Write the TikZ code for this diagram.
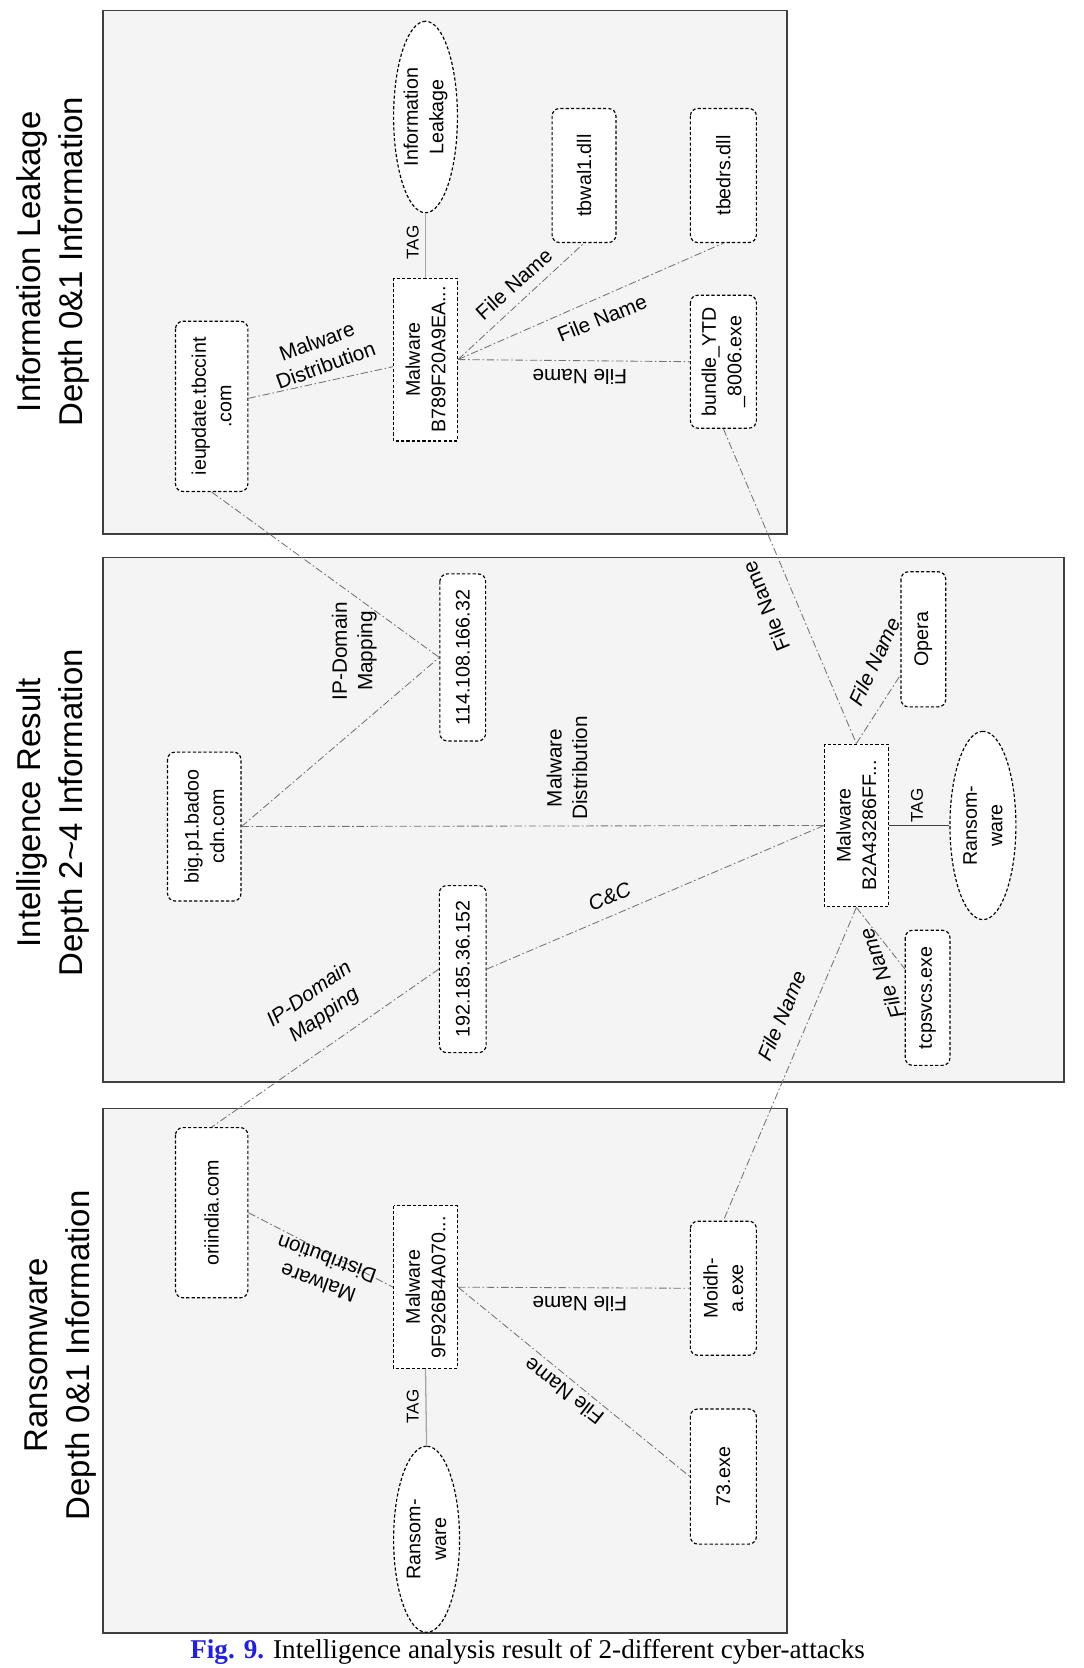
\documentclass[tikz,border=0pt]{standalone}
\usepackage{fontspec}
\setmainfont{Liberation Serif}
\newfontfamily\dsans{Liberation Sans}
\usetikzlibrary{shapes.geometric}
\definecolor{panelbg}{HTML}{F4F4F4}
\definecolor{figblue}{HTML}{1F1FE6}

\begin{document}
\begin{tikzpicture}[x=1pt,y=-1pt,line width=1pt,
  panel/.style={draw=black!75,fill=panelbg,line width=1.6pt},
  ttl/.style={rotate=90,align=center,font=\dsans\fontsize{31}{40}\selectfont},
  nd/.style={draw,dash pattern=on 3pt off 2pt,line width=1.1pt,fill=white,rotate=90,
    align=center,inner sep=2pt,font=\dsans\fontsize{18.5}{24}\selectfont},
  rbox/.style={nd,rounded corners=7pt},
  mbox/.style={nd,minimum width=153pt,minimum height=60pt},
  tagell/.style={nd,ellipse,inner sep=0pt},
  rel/.style={draw=black!55,line width=0.8pt,dash pattern=on 7pt off 2.5pt on 1.5pt off 2.5pt},
  tagln/.style={draw=black!35,line width=1.2pt},
  elab/.style={font=\dsans\fontsize{19.5}{24}\selectfont,align=center,inner sep=1pt},
  tlab/.style={elab,rotate=90,font=\dsans\fontsize{16}{20}\selectfont}]
\useasboundingbox (0,0) rectangle (1019,1568);
% 三个面板
\draw[panel] (97,10) rectangle (740,502);
\draw[panel] (97,524) rectangle (1000,1017);
\draw[panel] (97,1042) rectangle (740,1535);
% 标题（竖排）
\node[ttl] (t1) at (50,246) {Information Leakage\\Depth 0\&1 Information};
\node[ttl] (t2) at (50,764) {Intelligence Result\\Depth 2\textasciitilde4 Information};
\node[ttl] (t3) at (57,1274) {Ransomware\\Depth 0\&1 Information};
% 面板一：Information Leakage
\node[tagell,minimum width=180pt,minimum height=60pt] (leak) at (400,110) {Information\\Leakage};
\node[mbox] (mw1) at (400,338) {Malware\\B789F20A9EA...};
\node[rbox,minimum width=160pt,minimum height=68pt] (ieup) at (199,382) {ieupdate.tbccint\\.com};
\node[rbox,minimum width=126pt,minimum height=60pt] (tbw) at (549,165) {tbwal1.dll};
\node[rbox,minimum width=126pt,minimum height=62pt] (tbe) at (680,165) {tbedrs.dll};
\node[rbox,minimum width=125pt,minimum height=62pt] (bndl) at (680,340) {bundle\_YTD\\\_8006.exe};
% 面板二：Intelligence Result
\node[rbox,minimum width=157pt,minimum height=43pt] (ipa) at (435,618) {114.108.166.32};
\node[rbox,minimum width=140pt,minimum height=69pt] (badoo) at (192,777) {big.p1.badoo\\cdn.com};
\node[rbox,minimum width=157pt,minimum height=44pt] (ipb) at (435,911) {192.185.36.152};
\node[mbox] (mw2) at (805,776) {Malware\\B2A43286FF...};
\node[rbox,minimum width=127pt,minimum height=42pt] (opera) at (868,601) {Opera};
\node[tagell,minimum width=177pt,minimum height=62pt] (rans2) at (924,776) {Ransom-\\ware};
\node[rbox,minimum width=127pt,minimum height=42pt] (tcp) at (872,938) {tcpsvcs.exe};
% 面板三：Ransomware
\node[rbox,minimum width=160pt,minimum height=68pt] (ori) at (199,1140) {oriindia.com};
\node[mbox] (mw3) at (400,1210) {Malware\\9F926B4A070...};
\node[rbox,minimum width=126pt,minimum height=62pt] (moidh) at (680,1211) {Moidh-\\a.exe};
\node[rbox,minimum width=127pt,minimum height=62pt] (ex73) at (680,1388) {73.exe};
\node[tagell,minimum width=175pt,minimum height=62pt] (rans3) at (401,1447) {Ransom-\\ware};
% 连线
\draw[tagln] (mw1.east) -- (leak.west);
\draw[rel] (ieup) -- (mw1);
\draw[rel] (mw1.south) -- (tbw.west);
\draw[rel] (mw1.south) -- (tbe.west);
\draw[rel] (mw1.south) -- (bndl.north);
\draw[rel] (ieup.west) -- (ipa.north);
\draw[rel] (badoo.south) -- (ipa.north);
\draw[rel] (bndl.west) -- (mw2.east);
\draw[rel] (badoo.south) -- (mw2.north);
\draw[rel] (mw2.north) -- (ipb.south);
\draw[rel] (mw2.east) -- (opera);
\draw[draw=black!75,line width=1.2pt] (mw2.south) -- (rans2.north);
\draw[rel] (mw2.west) -- (tcp);
\draw[rel] (mw2.west) -- (moidh.east);
\draw[rel] (ipb.north) -- (ori.east);
\draw[rel] (ori.south) -- (mw3.north);
\draw[rel] (mw3.south) -- (moidh.north);
\draw[rel] (mw3.south) -- (ex73.north);
\draw[tagln] (mw3.west) -- (rans3.east);
% 连线标签
\node[tlab] (e1) at (388,228) {TAG};
\node[elab,rotate=20] (e2) at (302,332) {Malware\\Distribution};
\node[elab,rotate=42] (e3) at (483,267) {File Name};
\node[elab,rotate=22] (e4) at (566,299) {File Name};
\node[elab,rotate=180] (e5) at (545,354) {File Name};
\node[elab,rotate=90] (e6) at (333,612) {IP-Domain\\Mapping};
\node[elab,rotate=112] (e7) at (720,570) {File Name};
\node[elab,rotate=90] (e8) at (533,722) {Malware\\Distribution};
\node[elab,rotate=65,font=\dsans\itshape\fontsize{19.5}{24}\selectfont] (e9) at (822,622) {File Name};
\node[tlab] (e10) at (862,757) {TAG};
\node[elab,rotate=22,font=\dsans\itshape\fontsize{19.5}{24}\selectfont] (e11) at (573,843) {C\&C};
\node[elab,rotate=35,font=\dsans\itshape\fontsize{19.5}{24}\selectfont] (e12) at (298,945) {IP-Domain\\Mapping};
\node[elab,rotate=67,font=\dsans\itshape\fontsize{19.5}{24}\selectfont] (e13) at (735,955) {File Name};
\node[elab,rotate=110,font=\dsans\itshape\fontsize{19.5}{24}\selectfont] (e14) at (829,915) {File Name};
\node[elab,rotate=160] (e15) at (303,1195) {Malware\\Distribution};
\node[elab,rotate=180] (e16) at (545,1226) {File Name};
\node[elab,rotate=142] (e17) at (530,1308) {File Name};
\node[tlab] (e18) at (388,1322) {TAG};
% 图注
\node[font=\fontsize{25.5}{30}\selectfont,inner sep=0pt] (cap) at (496,1553)
  {\textcolor{figblue}{\textbf{Fig. 9.}} Intelligence analysis result of 2-different cyber-attacks};
\end{tikzpicture}
\end{document}
